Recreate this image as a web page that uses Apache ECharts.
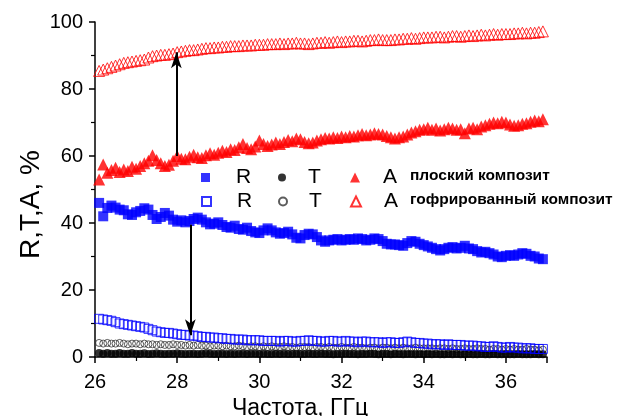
<!DOCTYPE html>
<html>
<head>
<meta charset="utf-8">
<script src="https://cdn.jsdelivr.net/npm/echarts@6/dist/echarts.min.js"></script>
<style>html,body{margin:0;padding:0;background:#fff}#main{width:617px;height:416px}</style>
</head>
<body>
<div id="main"></div>
<script>
// частота, ГГц: 26.1 ... 36.9, шаг 0.1
const freq = Array.from({ length: 109 }, (_, i) => +(26.1 + i * 0.1).toFixed(1))

// плоский композит
const flatR = [
  46.0, 42.0, 44.5, 45.2, 44.6, 44.0, 43.8, 42.6, 42.4, 43.2,
  43.6, 44.4, 44.0, 42.4, 41.2, 41.8, 43.0, 42.2, 41.0, 40.4,
  40.8, 40.2, 40.6, 41.2, 41.6, 41.0, 40.2, 39.6, 39.8, 40.2,
  39.4, 38.8, 38.6, 39.2, 38.2, 38.0, 38.6, 37.6, 37.2, 37.0,
  37.8, 38.4, 37.8, 37.2, 36.8, 37.0, 37.4, 36.6, 35.6, 35.4,
  36.4, 36.8, 36.6, 35.8, 34.8, 34.4, 34.8, 35.0, 35.2, 34.8,
  35.0, 35.2, 35.0, 35.4, 35.2, 34.8, 35.0, 35.4, 35.2, 34.6,
  33.8, 33.6, 33.6, 33.4, 33.2, 34.0, 34.6, 34.4, 33.8, 33.4,
  33.0, 32.6, 32.2, 31.8, 32.2, 32.6, 32.8, 32.4, 32.6, 33.2,
  32.4, 32.2, 31.6, 31.2, 31.4, 31.0, 30.6, 30.0, 29.8, 30.2,
  30.4, 30.2, 30.6, 31.0, 30.8, 30.2, 30.0, 29.4, 29.2
]
const flatT = [
  1.2, 1.0, 1.2, 1.0, 1.0, 1.2, 1.0, 1.0, 1.2, 1.0,
  1.0, 1.1, 0.9, 1.0, 1.1, 1.0, 0.9, 1.0, 1.0, 1.1,
  1.0, 0.9, 1.0, 1.0, 0.9, 1.0, 1.1, 1.0, 0.9, 1.0,
  1.0, 0.9, 1.0, 0.9, 1.0, 1.0, 0.9, 1.0, 1.0, 0.9,
  1.0, 0.9, 0.9, 1.0, 0.9, 1.0, 0.9, 0.9, 1.0, 0.9,
  0.9, 1.0, 0.9, 0.9, 1.0, 0.9, 0.9, 0.8, 0.9, 0.9,
  1.0, 0.9, 0.9, 0.8, 0.9, 0.9, 1.0, 0.9, 0.8, 0.9,
  0.9, 0.8, 0.9, 0.9, 0.8, 0.9, 0.9, 0.8, 0.9, 0.8,
  0.9, 0.8, 0.9, 0.8, 0.8, 0.9, 0.8, 0.9, 0.8, 0.8,
  0.9, 0.8, 0.8, 0.9, 0.8, 0.8, 0.9, 0.8, 0.8, 0.9,
  0.8, 0.8, 0.9, 0.8, 0.8, 0.8, 0.9, 0.8, 0.8
]
const flatA = [
  53.0, 57.5, 55.0, 55.8, 56.5, 55.2, 56.0, 55.5, 56.8, 56.2,
  57.0, 57.8, 58.6, 60.2, 58.8, 57.8, 57.0, 57.4, 58.6, 60.0,
  59.2, 59.0, 59.8, 60.4, 59.6, 59.4, 60.2, 60.8, 60.4, 61.0,
  61.6, 61.2, 62.0, 61.8, 62.6, 63.6, 62.4, 62.0, 62.8, 64.6,
  63.6, 63.0, 63.4, 64.0, 63.6, 64.2, 64.8, 64.4, 65.2, 65.0,
  64.2, 63.8, 64.0, 64.6, 65.0, 65.4, 65.2, 65.6, 65.4, 65.8,
  65.6, 66.0, 65.8, 66.2, 66.6, 66.2, 66.4, 66.8, 66.6, 66.4,
  66.0, 65.6, 65.2, 65.6, 65.8, 66.4, 67.0, 67.4, 67.8, 68.0,
  68.4, 67.8, 68.2, 67.6, 68.0, 68.4, 68.2, 67.8, 68.0, 66.8,
  68.2, 68.4, 68.0, 68.8, 69.2, 69.6, 70.0, 69.8, 70.2, 70.0,
  69.4, 69.0, 69.2, 69.6, 69.8, 70.2, 70.6, 70.4, 71.0
]

// гофрированный композит
const corrR = [
  11.4, 11.2, 11.0, 10.8, 10.4, 10.0, 9.8, 9.6, 9.4, 9.2,
  9.0, 8.8, 8.4, 8.0, 7.6, 7.4, 7.2, 7.2, 7.0, 6.8,
  6.6, 6.6, 6.4, 6.4, 6.2, 6.0, 6.0, 5.8, 5.8, 5.6,
  5.6, 5.4, 5.4, 5.2, 5.2, 5.2, 5.0, 5.0, 5.0, 5.0,
  4.8, 4.8, 4.8, 4.8, 4.6, 4.8, 4.8, 4.6, 4.6, 4.8,
  4.8, 5.0, 4.8, 4.8, 4.6, 4.6, 4.8, 4.8, 4.6, 4.6,
  4.8, 4.6, 4.6, 4.4, 4.6, 4.6, 4.4, 4.4, 4.4, 4.2,
  4.4, 4.4, 4.2, 4.2, 4.4, 4.6, 4.4, 4.2, 4.2, 4.0,
  4.0, 3.8, 3.8, 3.8, 3.6, 3.8, 3.6, 3.6, 3.6, 3.4,
  3.4, 3.4, 3.2, 3.2, 3.0, 3.0, 3.2, 3.0, 2.8, 2.8,
  3.0, 2.8, 2.8, 2.6, 2.6, 2.6, 2.4, 2.4, 2.4
]
const corrT = [
  4.2, 4.0, 4.2, 4.0, 4.0, 4.2, 4.0, 3.8, 4.0, 4.0,
  3.8, 4.0, 3.8, 3.8, 3.6, 3.8, 3.6, 3.6, 3.8, 3.6,
  3.6, 3.4, 3.6, 3.4, 3.6, 3.4, 3.4, 3.2, 3.4, 3.4,
  3.2, 3.4, 3.2, 3.2, 3.4, 3.2, 3.0, 3.2, 3.2, 3.0,
  3.2, 3.0, 3.2, 3.0, 3.0, 3.2, 3.0, 3.0, 2.8, 3.0,
  3.0, 3.0, 2.8, 3.0, 3.0, 2.8, 3.0, 2.8, 2.8, 3.0,
  2.8, 2.8, 3.0, 2.8, 2.8, 2.6, 2.8, 2.8, 2.6, 2.8,
  2.8, 2.6, 2.8, 2.6, 2.8, 2.6, 2.6, 2.8, 2.6, 2.6,
  2.6, 2.6, 2.4, 2.6, 2.6, 2.4, 2.6, 2.4, 2.4, 2.6,
  2.4, 2.4, 2.6, 2.4, 2.4, 2.2, 2.4, 2.4, 2.2, 2.4,
  2.2, 2.4, 2.2, 2.2, 2.4, 2.2, 2.2, 2.0, 2.2
]
const corrA = [
  85.4, 85.8, 86.2, 86.6, 87.0, 87.4, 87.8, 88.0, 88.2, 88.4,
  88.6, 88.8, 89.4, 89.8, 90.0, 90.2, 90.2, 90.4, 90.6, 91.0,
  91.2, 91.4, 91.6, 91.6, 91.8, 92.0, 92.2, 92.2, 92.4, 92.4,
  92.6, 92.6, 92.8, 92.8, 92.8, 93.0, 93.0, 93.0, 93.2, 93.2,
  93.2, 93.4, 93.4, 93.4, 93.6, 93.4, 93.6, 93.6, 93.8, 93.6,
  93.6, 93.4, 93.6, 93.8, 93.8, 94.0, 93.8, 94.0, 94.2, 94.0,
  94.2, 94.2, 94.4, 94.4, 94.2, 94.4, 94.6, 94.6, 94.8, 94.6,
  94.6, 94.6, 94.8, 94.8, 95.0, 95.0, 95.2, 95.0, 95.2, 95.4,
  95.4, 95.4, 95.6, 95.6, 95.4, 95.6, 95.8, 95.8, 95.6, 95.8,
  96.0, 95.8, 96.0, 96.2, 96.0, 96.2, 96.4, 96.2, 96.4, 96.4,
  96.4, 96.6, 96.6, 96.8, 96.6, 96.8, 96.8, 97.0, 97.2
]

// стрелки: [x, y от, y до]
const arrowUp = [27.98, 60, 91]
const arrowDown = [28.32, 39.5, 6.5]

const font = 'Liberation Sans'
const pairs = (ys) => freq.map((x, i) => [x, ys[i]])

const mk = (name, ys, symbol, size, style) => ({
  name: name,
  type: 'scatter',
  data: pairs(ys),
  symbol: symbol,
  symbolSize: size,
  itemStyle: style,
  emphasis: { disabled: true },
  animation: false
})

const hollow = (c) => ({ color: 'rgba(0,0,0,0)', borderColor: c, borderWidth: 1 })

const leg = (name, left, top, w, pad) => ({
  data: [name],
  left: left,
  top: top,
  padding: 0,
  itemWidth: w,
  itemHeight: w,
  selectedMode: false,
  formatter: (n) => n.charAt(0),
  textStyle: { fontSize: 21, color: '#000', fontFamily: font, padding: [0, 0, 0, pad] }
})

let mychart = echarts.init(document.getElementById('main'))

const arrowLine = (a) => ({
  silent: true,
  symbol: ['none', 'arrow'],
  symbolSize: [8, 16],
  lineStyle: { color: '#000', width: 2, type: 'solid' },
  label: { show: false },
  data: [[{ coord: [a[0], a[1]] }, { coord: [a[0], a[2]] }]]
})

let sFlatR = mk('R плоский', flatR, 'rect', 10, { color: '#0000ff' })
let sFlatT = mk('T плоский', flatT, 'circle', 8, { color: '#000' })
let sFlatA = mk('A плоский', flatA, 'triangle', 12, { color: '#ff0000' })
let sCorrR = mk('R гофр', corrR, 'rect', 9, hollow('#0000ff'))
let sCorrT = mk('T гофр', corrT, 'circle', 7, hollow('#333'))
let sCorrA = mk('A гофр', corrA, 'triangle', 11, hollow('#ff0000'))
sCorrA.markLine = arrowLine(arrowUp)
sCorrR.markLine = arrowLine(arrowDown)

var option = {
  backgroundColor: '#fff',
  animation: false,
  textStyle: { fontFamily: font },
  grid: { left: 95, right: 70, top: 22, bottom: 59, containLabel: false, outerBoundsMode: 'none' },
  xAxis: {
    type: 'value',
    min: 26,
    max: 37,
    interval: 2,
    name: 'Частота, ГГц',
    nameLocation: 'middle',
    nameGap: 40,
    nameTextStyle: { fontSize: 23, color: '#000', padding: [0, 42, 0, 0] },
    axisLine: { lineStyle: { color: '#000', width: 1.5 } },
    axisTick: { inside: false, length: 6, lineStyle: { color: '#000', width: 1.5 } },
    minorTick: { show: true, splitNumber: 2, length: 4, lineStyle: { color: '#000', width: 1.2 } },
    axisLabel: { fontSize: 20, color: '#000', margin: 15, showMaxLabel: false },
    splitLine: { show: false }
  },
  yAxis: {
    type: 'value',
    min: 0,
    max: 100,
    interval: 20,
    name: 'R,T,A, %',
    nameLocation: 'middle',
    nameGap: 50,
    nameMoveOverlap: false,
    nameTextStyle: { fontSize: 28, color: '#000', padding: [0, 30, 0, 0] },
    axisLine: { show: true, lineStyle: { color: '#000', width: 1.5 } },
    axisTick: { show: true, inside: false, length: 6, lineStyle: { color: '#000', width: 1.5 } },
    minorTick: { show: true, splitNumber: 2, length: 4, lineStyle: { color: '#000', width: 1.2 } },
    axisLabel: { fontSize: 20, color: '#000', margin: 12 },
    splitLine: { show: false }
  },
  legend: [
    leg('R плоский', 201, 167, 9, 21),
    leg('T плоский', 278, 167, 8, 17),
    leg('A плоский', 350, 167, 10, 18),
    leg('R гофр', 201, 191, 9, 21),
    leg('T гофр', 278, 191, 8, 17),
    leg('A гофр', 350, 191, 10, 18)
  ],
  graphic: [
    { type: 'text', left: 410, top: 168, style: { text: 'плоский композит', font: 'bold 15.5px "Liberation Sans"', fill: '#000' } },
    { type: 'text', left: 410, top: 192, style: { text: 'гофрированный композит', font: 'bold 15.5px "Liberation Sans"', fill: '#000' } }
  ],
  series: [sCorrT, sFlatT, sCorrR, sFlatR, sFlatA, sCorrA]
}

mychart.setOption(option)
</script>
</body>
</html>
